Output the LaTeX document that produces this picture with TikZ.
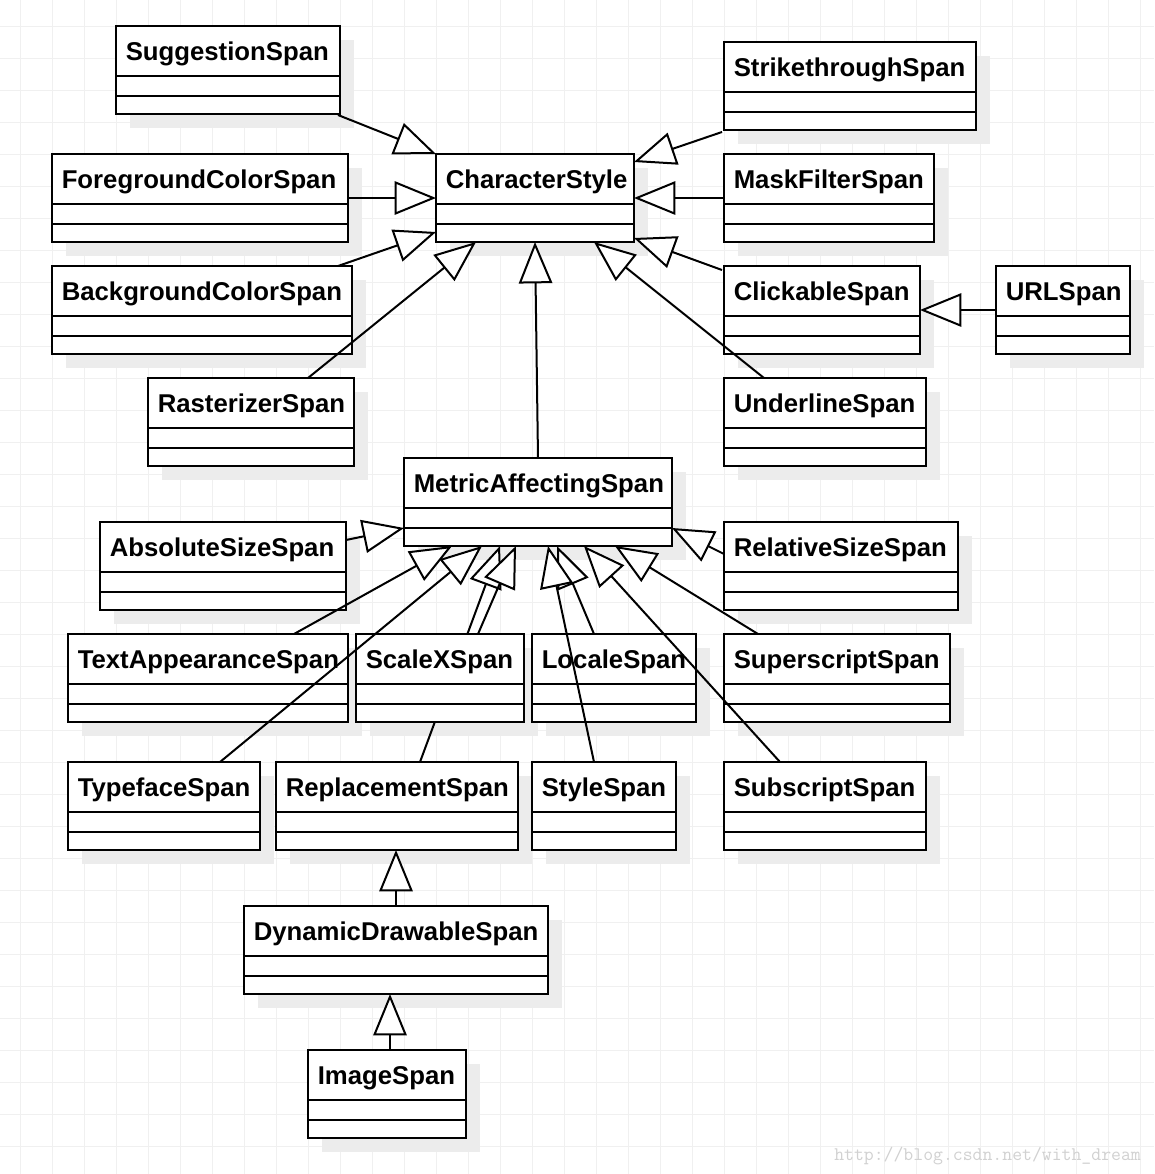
\documentclass[tikz,border=0pt]{standalone}
\usepackage{fontspec}
\setmainfont{Liberation Sans}
\usetikzlibrary{arrows.meta,calc}
\definecolor{gridc}{gray}{0.94}
\definecolor{shadowc}{gray}{0.925}
\definecolor{wmc}{gray}{0.82}
\pgfdeclarelayer{bg}\pgfdeclarelayer{shadow}\pgfdeclarelayer{mid}
\pgfsetlayers{bg,shadow,mid,main}
\tikzset{
  clsbox/.style={draw, fill=white, line width=1.5pt, minimum height=66pt, inner sep=0pt, outer sep=0pt},
  clsline/.style={line width=1.5pt},
  clstext/.style={inner sep=0pt, font=\fontsize{19.3pt}{23pt}\selectfont\bfseries},
  inh/.style={line width=1.5pt, -{Triangle[length=31pt,width=25pt,fill=white]}},
  gridline/.style={draw=gridc, line width=0.75pt},
}
\newcommand\umlcls[5]{%
  \begin{pgfonlayer}{shadow}\fill[shadowc] (#2+14,#3+14) rectangle (#2+14+#4,#3+102);\end{pgfonlayer}
  \node[clsbox, minimum width=#4*0.75pt, anchor=north west] (#1) at (#2,#3) {};
  \draw[clsline] ($(#1.north west)+(0,50)$) -- ($(#1.north east)+(0,50)$);
  \draw[clsline] ($(#1.north west)+(0,70)$) -- ($(#1.north east)+(0,70)$);
  \node[clstext, anchor=base west] (#1-t) at ($(#1.north west)+(9.5,34)$) {#5};
}
\begin{document}
\begin{tikzpicture}[x=0.75pt, y=-0.75pt]
\useasboundingbox (0,0) rectangle (1154,1174);
\begin{pgfonlayer}{bg}
  \fill[white] (0,0) rectangle (1154,1174);
  \foreach \k in {0,...,35} {
    \draw[gridline] (20+32*\k,0) -- (20+32*\k,1174);
    \draw[gridline] (0,26+32*\k) -- (1154,26+32*\k);
  }
\end{pgfonlayer}

\umlcls{sugg}{116}{26}{224}{SuggestionSpan}
\umlcls{strike}{724}{42}{252}{StrikethroughSpan}
\umlcls{fore}{52}{154}{296}{ForegroundColorSpan}
\umlcls{cs}{436}{154}{198}{CharacterStyle}
\umlcls{mask}{724}{154}{210}{MaskFilterSpan}
\umlcls{back}{52}{266}{300}{BackgroundColorSpan}
\umlcls{click}{724}{266}{196}{ClickableSpan}
\umlcls{url}{996}{266}{134}{URLSpan}
\umlcls{rast}{148}{378}{206}{RasterizerSpan}
\umlcls{under}{724}{378}{202}{UnderlineSpan}
\umlcls{metric}{404}{458}{268}{MetricAffectingSpan}
\umlcls{abs}{100}{522}{246}{AbsoluteSizeSpan}
\umlcls{rel}{724}{522}{234}{RelativeSizeSpan}
\umlcls{textapp}{68}{634}{280}{TextAppearanceSpan}
\umlcls{scalex}{356}{634}{168}{ScaleXSpan}
\umlcls{locale}{532}{634}{164}{LocaleSpan}
\umlcls{sup}{724}{634}{226}{SuperscriptSpan}
\umlcls{typeface}{68}{762}{192}{TypefaceSpan}
\umlcls{repl}{276}{762}{242}{ReplacementSpan}
\umlcls{style}{532}{762}{144}{StyleSpan}
\umlcls{sub}{724}{762}{202}{SubscriptSpan}
\umlcls{dyn}{244}{906}{304}{DynamicDrawableSpan}
\umlcls{image}{308}{1050}{158}{ImageSpan}

% connectors to CharacterStyle
\draw[inh] ($(sugg.south east)+(-2,1)$) -- (cs.north west);
\draw[inh] (fore.east) -- (cs.west);
\draw[inh] ($(back.north east)+(-14,0)$) -- ($(cs.south west)+(0,-10)$);
\draw[inh] ($(rast.north west)+(160,0)$) -- ($(cs.south west)+(40,0)$);
\draw[inh] ($(strike.south west)+(-2,2)$) -- ($(cs.north east)+(0,8)$);
\draw[inh] (mask.west) -- (cs.east);
\draw[inh] ($(click.north west)+(-2,4)$) -- ($(cs.south east)+(0,-4)$);
\draw[inh] ($(under.north west)+(40,0)$) -- ($(cs.south east)+(-40,0)$);
\draw[inh] (metric.north) -- (cs.south);
\draw[inh] (url.west) -- (click.east);

% connectors to MetricAffectingSpan
\begin{pgfonlayer}{mid}
\draw[inh] ($(repl.north west)+(144,0)$) -- ($(metric.south west)+(96,0)$);
\end{pgfonlayer}
\draw[inh] ($(abs.north east)+(0,18)$) -- ($(metric.north west)+(0,70)$);
\draw[inh] ($(rel.north west)+(0,32)$) -- ($(metric.north east)+(0,70)$);
\draw[inh] ($(textapp.north west)+(226,0)$) -- ($(metric.south west)+(48,0)$);
\draw[inh] ($(typeface.north west)+(152,0)$) -- ($(metric.south west)+(78,0)$);
\draw[inh] ($(scalex.north west)+(122,0)$) -- ($(metric.south west)+(112,0)$);
\draw[inh] ($(locale.north west)+(62,0)$) -- ($(metric.south west)+(153,0)$);
\draw[inh] ($(style.north west)+(62,0)$) -- ($(metric.south west)+(144,0)$);
\draw[inh] ($(sup.north west)+(34,0)$) -- ($(metric.south west)+(211,0)$);
\draw[inh] ($(sub.north west)+(56,0)$) -- ($(metric.south west)+(180,0)$);

% lower chain
\draw[inh] (dyn.north) -- ($(repl.south west)+(120,0)$);
\draw[inh] ($(image.north west)+(82,0)$) -- ($(dyn.south west)+(146,0)$);

\node[font=\ttfamily\fontsize{14.4pt}{16pt}\selectfont, text=wmc, anchor=base west, inner sep=0pt] (wm) at (834,1160) {http://blog.csdn.net/with\_dream};
\end{tikzpicture}
\end{document}
